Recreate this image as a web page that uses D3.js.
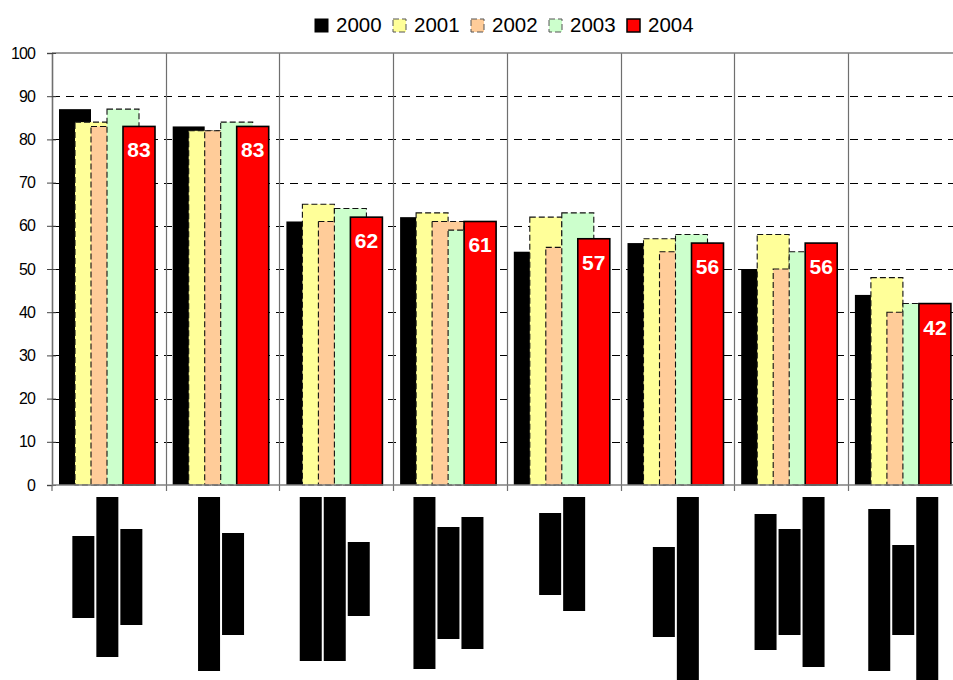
<!DOCTYPE html>
<html>
<head>
<meta charset="utf-8">
<script src="https://cdn.jsdelivr.net/npm/d3@7"></script>
<style>
  html, body { margin: 0; padding: 0; background: #fff; }
  svg { display: block; }
</style>
</head>
<body>
<svg id="chart" width="953" height="680"></svg>
<script>
// ---- data ----
const years = ["2000", "2001", "2002", "2003", "2004"];
const values2000 = [87, 83, 61, 62, 54, 56, 50, 44];
const values2001 = [84, 82, 65, 63, 62, 57, 58, 48];
const values2002 = [83, 82, 61, 61, 55, 54, 50, 40];
const values2003 = [87, 84, 64, 59, 63, 58, 54, 42];
const values2004 = [83, 83, 62, 61, 57, 56, 56, 42];
const seriesValues = [values2000, values2001, values2002, values2003, values2004];
const yTicks = [0, 10, 20, 30, 40, 50, 60, 70, 80, 90, 100];

// category labels are blacked out: each entry lists its (rotated) text lines by length
const categoryLabelLines = [
  [82, 160, 96],
  [174, 102],
  [164, 164, 74],
  [172, 112, 132],
  [82, 114],
  [90, 190],
  [136, 106, 170],
  [162, 90, 186]
];

// ---- styling ----
const fills = ["#000000", "#FFFF99", "#FFCC99", "#CCFFCC", "#FF0000"];
const strokes = ["none", "#111", "#111", "#111", "#000"];
const dashes = [null, "6,3", "6,3", "6,3", null];
const strokeWidths = [0, 1.1, 1.1, 1.1, 1.6];
const font = "'Liberation Sans', Arial, sans-serif";

const svg = d3.select("#chart");
const plotLeft = 52, plotTop = 53, plotBottom = 485, groupW = 113.7;
const n = categoryLabelLines.length;

const x = d3.scaleBand().domain(d3.range(n)).range([plotLeft, plotLeft + n * groupW]).padding(0);
const y = d3.scaleLinear().domain([0, 100]).range([plotBottom, plotTop]);
const xOff = d3.scaleLinear().domain([0, years.length - 1]).range([7, 7 + 64]);
const barW = 32;
const plotRight = x.range()[1];
const crisp = v => Math.round(v) + 0.5;

// dashed horizontal gridlines (behind the bars)
svg.append("g").selectAll("line")
  .data(yTicks.filter(t => t > 0 && t < 100))
  .join("line")
  .attr("x1", plotLeft).attr("x2", plotRight)
  .attr("y1", d => crisp(y(d))).attr("y2", d => crisp(y(d)))
  .attr("stroke", "#000").attr("stroke-width", 1)
  .attr("stroke-dasharray", "8,6");

// vertical separators between categories
svg.append("g").selectAll("line")
  .data(d3.range(1, n + 1))
  .join("line")
  .attr("x1", d => crisp(plotLeft + d * groupW)).attr("x2", d => crisp(plotLeft + d * groupW))
  .attr("y1", plotTop).attr("y2", plotBottom + 6)
  .attr("stroke", "#6f6f6f").attr("stroke-width", 1.2);

// top border
svg.append("line")
  .attr("x1", plotLeft).attr("x2", plotRight)
  .attr("y1", plotTop).attr("y2", plotTop)
  .attr("stroke", "#7f7f7f").attr("stroke-width", 1.6);

// bars, drawn series by series so later years overlap earlier ones
seriesValues.forEach((vals, si) => {
  svg.append("g").selectAll("rect")
    .data(vals)
    .join("rect")
    .attr("x", (d, i) => x(i) + xOff(si))
    .attr("y", d => y(d))
    .attr("width", barW)
    .attr("height", d => y(0) - y(d))
    .attr("fill", fills[si])
    .attr("stroke", strokes[si])
    .attr("stroke-width", strokeWidths[si])
    .attr("stroke-dasharray", dashes[si]);
});

// value labels on the 2004 bars
svg.append("g").selectAll("text")
  .data(values2004)
  .join("text")
  .attr("x", (d, i) => x(i) + xOff(4) + barW / 2)
  .attr("y", d => y(d) + 31)
  .attr("text-anchor", "middle")
  .attr("fill", "#fff")
  .attr("font-family", font)
  .attr("font-weight", "bold")
  .attr("font-size", 21)
  .text(d => d);

// y axis (ticks cross the axis line)
const yAxis = d3.axisLeft(y).tickValues(yTicks).tickSize(5).tickPadding(12);
const gy = svg.append("g").attr("transform", `translate(${plotLeft},0)`).call(yAxis);
gy.select(".domain").attr("stroke", "#6f6f6f").attr("stroke-width", 1.6);
gy.selectAll(".tick line").attr("x2", -5).attr("x1", 4).attr("stroke", "#444");
gy.selectAll(".tick text")
  .attr("font-family", font).attr("font-size", 16)
  .attr("letter-spacing", "-0.9px").attr("fill", "#000");

// x axis line with ticks at category boundaries
svg.append("line")
  .attr("x1", plotLeft).attr("x2", plotRight)
  .attr("y1", plotBottom).attr("y2", plotBottom)
  .attr("stroke", "#7f7f7f").attr("stroke-width", 1.6);
svg.append("line")
  .attr("x1", plotLeft).attr("x2", plotLeft)
  .attr("y1", plotBottom).attr("y2", plotBottom + 6)
  .attr("stroke", "#6f6f6f").attr("stroke-width", 1.2);

// blacked-out category labels: rotated lines, centred as a block under each category
const lineW = 22, lineGap = 2, labelTop = 497;
categoryLabelLines.forEach((lines, i) => {
  const blockW = lines.length * lineW + (lines.length - 1) * lineGap;
  const cx = x(i) + x.bandwidth() / 2 - 1.5;
  const maxLen = d3.max(lines);
  const cy = labelTop + maxLen / 2;
  svg.append("g").selectAll("rect")
    .data(lines)
    .join("rect")
    .attr("x", (d, j) => cx - blockW / 2 + j * (lineW + lineGap))
    .attr("y", d => cy - d / 2)
    .attr("width", lineW)
    .attr("height", d => d)
    .attr("fill", "#000");
});

// legend
const legend = svg.append("g").attr("transform", "translate(315,0)");
const item = legend.selectAll("g")
  .data(years)
  .join("g")
  .attr("transform", (d, i) => `translate(${i * 78},0)`);
item.append("rect")
  .attr("x", 0).attr("y", 19).attr("width", 13).attr("height", 13)
  .attr("fill", (d, i) => fills[i])
  .attr("stroke", (d, i) => (i === 0 || i === 4) ? "#000" : "#555")
  .attr("stroke-width", (d, i) => i === 4 ? 1.5 : 1)
  .attr("stroke-dasharray", (d, i) => dashes[i]);
item.append("text")
  .attr("x", 21).attr("y", 31.5)
  .attr("font-family", font).attr("font-size", 20.5)
  .attr("fill", "#000")
  .text(d => d);
</script>
</body>
</html>
